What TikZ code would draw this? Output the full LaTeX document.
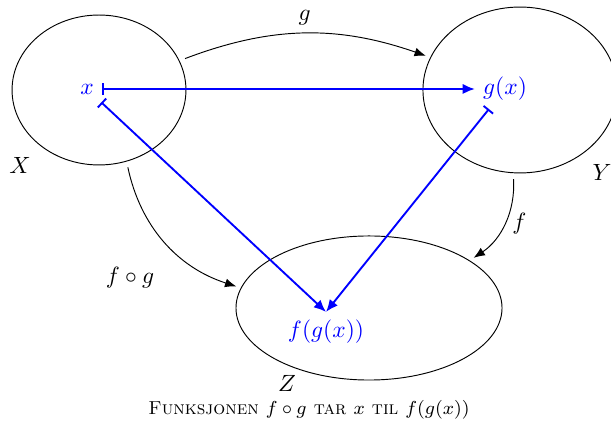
\documentclass[tikz,border=0pt]{standalone}
\usetikzlibrary{shapes.geometric,arrows.meta}
\begin{document}
\begin{tikzpicture}[x=0.4255pt,y=0.4255pt,
  set/.style={draw, ellipse, inner sep=0pt, line width=0.4pt},
  elem/.style={text=blue},
  map/.style={-{Latex[length=4.8pt,width=3.8pt]}, line width=0.4pt, shorten <=2.5pt, shorten >=2pt},
  blueline/.style={{Bar[width=5.2pt]}-{Latex[length=5.2pt,width=4.4pt]}, draw=blue, line width=0.8pt}]
\useasboundingbox (0,0) rectangle (611,-425);
\node[set, minimum width=74pt, minimum height=63.8pt] (X) at (99,-90) {};
\node[set, minimum width=82.6pt, minimum height=70.6pt] (Y) at (520,-90) {};
\node[set, minimum width=113.2pt, minimum height=61.3pt] (Z) at (369,-308) {};
\node (Xl) at (20,-165) {$X$};
\node (Yl) at (602,-172) {$Y$};
\node (Zl) at (287,-383) {$Z$};
\node[elem] (x) at (87,-89) {$x$};
\node[elem] (gx) at (505,-89) {$g(x)$};
\node[elem] (fgx) at (326,-332) {$f(g(x))$};
\draw[map] (X) to[bend left=20] node[above] (gl) {$g$} (Y);
\draw[map] (Y) to[bend left=30] node[right] (fl) {$f$} (Z);
\draw[map] (X) to[bend right=30] (Z);
\node (fgl) at (130,-278) {$f\circ g$};
\draw[blueline] (x) -- (gx);
\draw[blueline] (x) -- (fgx.north);
\draw[blueline] (gx) -- (fgx.north);
\node[font=\footnotesize] (cap) at (309,-410) {\textsc{Funksjonen $f\circ g$ tar $x$ til $f(g(x))$}};
\end{tikzpicture}
\end{document}
